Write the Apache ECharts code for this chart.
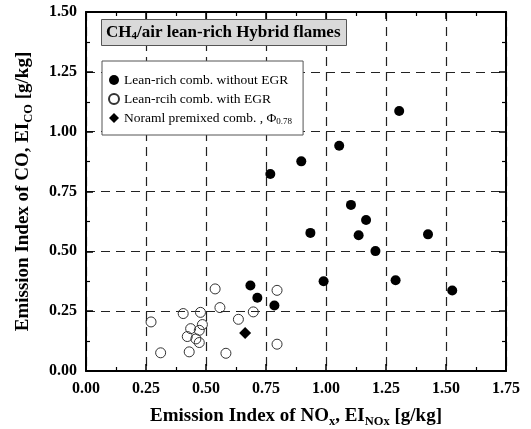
<!DOCTYPE html>
<html><head><meta charset="utf-8">
<script src="https://cdn.jsdelivr.net/npm/echarts@6/dist/echarts.min.js"></script>
<style>html,body{margin:0;padding:0;background:#fff}#c{width:531px;height:429px}</style>
</head><body><div id="c"></div>
<script>
// Lean-rich comb. without EGR  [EI_NOx, EI_CO]
const withoutEGR = [
  [1.305, 1.086], [1.055, 0.941], [0.897, 0.876], [0.768, 0.823],
  [1.104, 0.694], [1.167, 0.631], [0.935, 0.577], [1.136, 0.567],
  [1.425, 0.571], [1.206, 0.501], [0.990, 0.375], [1.290, 0.379],
  [1.526, 0.336], [0.685, 0.357], [0.714, 0.306], [0.785, 0.274]
];
// Lean-rcih comb. with EGR
const withEGR = [
  [0.538, 0.343], [0.796, 0.337], [0.558, 0.265], [0.405, 0.240],
  [0.477, 0.245], [0.697, 0.247], [0.635, 0.216], [0.271, 0.205],
  [0.485, 0.194], [0.436, 0.177], [0.472, 0.170], [0.422, 0.144],
  [0.458, 0.134], [0.472, 0.119], [0.796, 0.112], [0.311, 0.076],
  [0.430, 0.080], [0.583, 0.074]
];
// Noraml premixed comb., Phi 0.78
const premixed = [[0.663, 0.159]];

const xTicks = [0, 1.75, 0.25];
const yTicks = [0, 1.5, 0.25];

const serif = '"Liberation Serif","DejaVu Serif",serif';
const chart = echarts.init(document.getElementById('c'), null, {renderer: 'canvas'});

const axisCommon = {
  type: 'value',
  axisLine: {show: true, onZero: false, lineStyle: {color: '#000', width: 2}},
  axisTick: {show: true, inside: true, length: 7, lineStyle: {color: '#000', width: 1.5}},
  minorTick: {show: true, splitNumber: 2, length: 4, lineStyle: {color: '#000', width: 1.2}},
};

const nameRich = {
  a: {fontFamily: serif, fontWeight: 'bold', fontSize: 19, color: '#000'},
  s: {fontFamily: serif, fontWeight: 'bold', fontSize: 12.5, color: '#000', verticalAlign: 'bottom', padding: [10, 0, 0, 0]}
};

chart.setOption({
  animation: false,
  backgroundColor: '#fff',
  title: {
    text: '{a|CH}{s|4}{a|/air lean-rich Hybrid flames}',
    left: 101, top: 18,
    backgroundColor: '#d9d9d9',
    borderColor: '#555', borderWidth: 1,
    padding: [5, 6, 4, 5],
    textStyle: {
      rich: {
        a: {fontFamily: serif, fontWeight: 'bold', fontSize: 17, color: '#000'},
        s: {fontFamily: serif, fontWeight: 'bold', fontSize: 11, color: '#000', verticalAlign: 'bottom', padding: [8, 0, 0, 0]}
      }
    }
  },
  legend: {
    left: 102, top: 61,
    orient: 'vertical',
    backgroundColor: '#fff',
    borderColor: '#555', borderWidth: 1,
    padding: [12, 11, 9, 6],
    itemGap: 5,
    itemWidth: 10, itemHeight: 10,
    data: ['without', 'with', 'premixed'],
    formatter: function (name) {
      if (name === 'without') return '{t|Lean-rich comb. without EGR}';
      if (name === 'with') return '{t|Lean-rcih comb. with EGR}';
      return '{t|Noraml premixed comb. , Φ}{s|0.78}';
    },
    textStyle: {
      rich: {
        t: {fontFamily: serif, fontSize: 13.5, color: '#000'},
        s: {fontFamily: serif, fontSize: 9, color: '#000', verticalAlign: 'bottom', padding: [7, 0, 0, 0]}
      }
    }
  },
  grid: {left: 86, right: 25, top: 12, bottom: 58, outerBoundsMode: 'none', containLabel: false},
  xAxis: [
    Object.assign({}, axisCommon, {
      min: xTicks[0], max: xTicks[1], interval: xTicks[2],
      position: 'bottom',
      axisLabel: {
        margin: 10, color: '#000', fontFamily: serif, fontWeight: 'bold', fontSize: 16,
        formatter: v => v.toFixed(2)
      },
      splitLine: {show: true, lineStyle: {color: '#222', width: 1.2, type: [9, 6]}},
      name: '{a|Emission Index of NO}{s|x}{a|, EI}{s|NOx}{a| [g/kg]}',
      nameLocation: 'middle', nameGap: 34,
      nameTextStyle: {rich: nameRich}
    }),
    Object.assign({}, axisCommon, {
      min: xTicks[0], max: xTicks[1], interval: xTicks[2],
      position: 'top',
      axisLabel: {show: false},
      splitLine: {show: false}
    })
  ],
  yAxis: [
    Object.assign({}, axisCommon, {
      min: yTicks[0], max: yTicks[1], interval: yTicks[2],
      position: 'left',
      axisLabel: {
        margin: 9, color: '#000', fontFamily: serif, fontWeight: 'bold', fontSize: 16,
        formatter: v => v.toFixed(2)
      },
      splitLine: {show: true, lineStyle: {color: '#222', width: 1.2, type: [9, 6]}},
      name: '{a|Emission Index of CO, EI}{s|CO}{a| [g/kg]}',
      nameLocation: 'middle', nameGap: 51,
      nameTextStyle: {rich: nameRich}
    }),
    Object.assign({}, axisCommon, {
      min: yTicks[0], max: yTicks[1], interval: yTicks[2],
      position: 'right',
      axisLabel: {show: false},
      splitLine: {show: false}
    })
  ],
  series: [
    {
      name: 'without', type: 'scatter', data: withoutEGR,
      symbol: 'circle', symbolSize: 10,
      itemStyle: {color: '#000', opacity: 1}
    },
    {
      name: 'with', type: 'scatter', data: withEGR,
      symbol: 'circle', symbolSize: 10,
      itemStyle: {color: 'rgba(255,255,255,0)', borderColor: '#333', borderWidth: 1, opacity: 1}
    },
    {
      name: 'premixed', type: 'scatter', data: premixed,
      symbol: 'diamond', symbolSize: 12,
      itemStyle: {color: '#000', opacity: 1}
    }
  ]
});
</script>
</body></html>
